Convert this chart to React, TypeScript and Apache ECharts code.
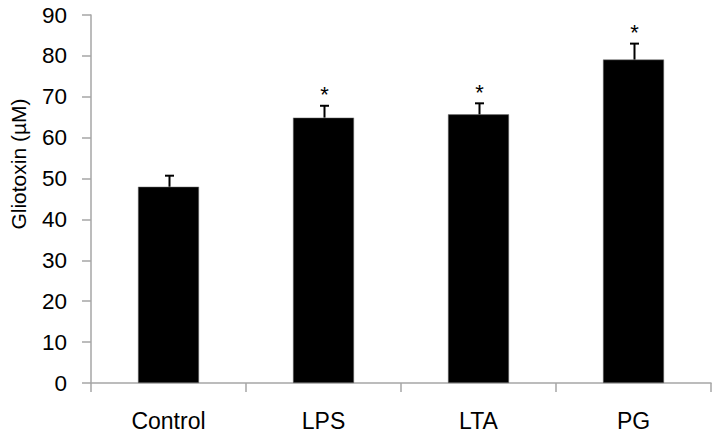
import React, { useEffect, useRef } from "react";
import * as echarts from "echarts";

const categories = ["Control", "LPS", "LTA", "PG"];
const means = [48.0, 64.9, 65.7, 79.1];
const errors = [2.7, 2.9, 2.7, 3.9];
const significant = [false, true, true, true];
const yTicks = { min: 0, max: 90, interval: 10 };
const yTitle = "Gliotoxin (µM)";

export default function App() {
  const ref = useRef<HTMLDivElement>(null);
  useEffect(() => {
    if (!ref.current) return;
    const chart = echarts.init(ref.current, null, { renderer: "svg" });
    const font = "'Liberation Sans', Arial, sans-serif";
    const errData = categories.map((c, i) => [i, means[i], means[i] + errors[i], significant[i] ? 1 : 0]);
    chart.setOption({
      animation: false,
      backgroundColor: "#ffffff",
      grid: { left: 91, right: 8, top: 15, bottom: 54, containLabel: false, outerBoundsMode: "none" },
      graphic: [
        {
          type: "text",
          x: 18,
          y: 164,
          rotation: Math.PI / 2,
          style: {
            text: yTitle,
            align: "center",
            verticalAlign: "middle",
            fontSize: 21,
            fontFamily: font,
            fill: "#000",
          },
        },
      ],
      xAxis: {
        type: "category",
        data: categories,
        axisLine: { lineStyle: { color: "#a6a6a6", width: 1.5 } },
        axisTick: { show: true, length: 9, lineStyle: { color: "#a6a6a6", width: 1.5 }, alignWithLabel: false },
        axisLabel: { color: "#000", fontSize: 23, fontFamily: font, margin: 26 },
      },
      yAxis: {
        type: "value",
        min: yTicks.min,
        max: yTicks.max,
        interval: yTicks.interval,
        axisLine: { show: true, lineStyle: { color: "#a6a6a6", width: 1.5 } },
        axisTick: { show: true, length: 9, lineStyle: { color: "#a6a6a6", width: 1.5 } },
        splitLine: { show: false },
        axisLabel: { color: "#000", fontSize: 22.5, fontFamily: font, margin: 24 },
      },
      series: [
        {
          type: "bar",
          data: means,
          barWidth: 61,
          itemStyle: { color: "#000000", borderColor: "#777", borderWidth: 0.5 },
          z: 2,
        },
        {
          type: "custom",
          data: errData,
          z: 3,
          renderItem: (params: any, api: any) => {
            const x = api.value(0);
            const lo = api.coord([x, api.value(1)]);
            const hi = api.coord([x, api.value(2)]);
            const cx = lo[0] + 1;
            const children: any[] = [
              { type: "line", shape: { x1: cx, y1: lo[1], x2: cx, y2: hi[1] }, style: { stroke: "#000", lineWidth: 2 } },
              { type: "line", shape: { x1: cx - 4.5, y1: hi[1], x2: cx + 4.5, y2: hi[1] }, style: { stroke: "#000", lineWidth: 2 } },
            ];
            if (api.value(3) === 1) {
              children.push({
                type: "text",
                style: {
                  text: "*",
                  x: cx,
                  y: hi[1] - 11,
                  align: "center",
                  verticalAlign: "middle",
                  fontSize: 22,
                  fontFamily: font,
                  fill: "#000",
                },
              });
            }
            return { type: "group", children };
          },
        },
      ],
    });
    return () => chart.dispose();
  }, []);
  return <div ref={ref} style={{ width: 719, height: 437, position: "absolute", left: 0, top: 0 }} />;
}
